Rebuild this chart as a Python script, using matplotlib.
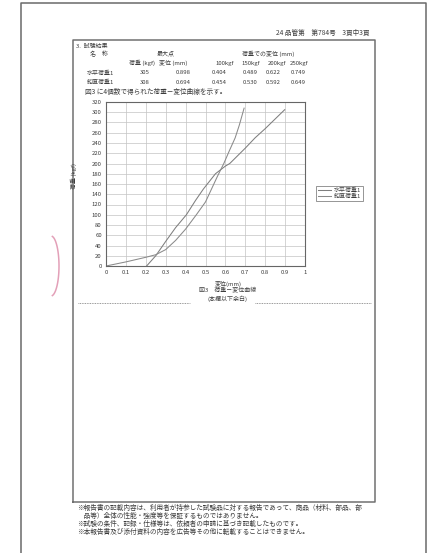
import numpy as np
import matplotlib
matplotlib.use('Agg')
import matplotlib.pyplot as plt

plt.rcParams['font.family'] = ['Noto Sans CJK JP', 'DejaVu Sans']

# Load-displacement curves
horiz_disp = [0.204, 0.25, 0.3, 0.35, 0.404, 0.45, 0.489, 0.55, 0.6, 0.622, 0.7, 0.749, 0.8, 0.898]
horiz_load = [0, 20, 48, 75, 100, 128, 150, 180, 195, 200, 230, 250, 268, 305]
vert_disp = [0, 0.1, 0.2, 0.25, 0.3, 0.35, 0.4, 0.454, 0.5, 0.53, 0.56, 0.592, 0.62, 0.649, 0.67, 0.694]
vert_load = [0, 8, 17, 22, 32, 50, 72, 100, 125, 150, 175, 200, 225, 250, 275, 308]
series_names = ['水平荷重1', '鉛直荷重1']

x_ticks = [0, 0.1, 0.2, 0.3, 0.4, 0.5, 0.6, 0.7, 0.8, 0.9, 1]
x_tick_labels = ['0', '0.1', '0.2', '0.3', '0.4', '0.5', '0.6', '0.7', '0.8', '0.9', '1']
y_ticks = list(range(0, 321, 20))

# Result table
table_head = ['荷重 (kgf)', '変位 (mm)', '100kgf', '150kgf', '200kgf', '250kgf']
table_rows = [
    ['水平荷重1', '305', '0.898', '0.404', '0.489', '0.622', '0.749'],
    ['鉛直荷重1', '308', '0.694', '0.454', '0.530', '0.592', '0.649'],
]

footer_lines = [
    '※報告書の記載内容は、利用者が持参した試験品に対する報告であって、商品（材料、部品、部',
    '　品等）全体の性能・強度等を保証するものではありません。',
    '※試験の条件、記録・仕様等は、依頼者の申請に基づき記載したものです。',
    '※本報告書及び添付資料の内容を広告等その他に転載することはできません。',
]

W, H = 445, 553
fig = plt.figure(figsize=(W / 100, H / 100), dpi=100)
fig.patch.set_facecolor('white')

# page layer in pixel coordinates
bg = fig.add_axes([0, 0, 1, 1], zorder=0)
bg.set_xlim(0, W)
bg.set_ylim(H, 0)
bg.axis('off')

txt = '#3c3c3c'
fs = 4.3      # numbers, ticks, table
fs_jp = 4.8   # running Japanese text

# outer page and inner frame
bg.plot([21, 21, 426, 426], [H, 3, 3, H], color='#6a6a6a', lw=1.1)
bg.plot([73, 73, 375, 375, 73], [502, 40, 40, 502, 502], color='#707070', lw=1.1)

# pink stamp on the left margin
t = np.linspace(-1, 1, 60)
bg.plot(51 + 8 * np.cos(t * 1.4), 266 + 30 * np.sin(t * 1.4), color='#e3a0b8', lw=1.1)

# header texts
bg.text(370, 33, '24 品管第　第784号　3頁中3頁', fontsize=fs_jp, color=txt, ha='right', va='center')
bg.text(76, 46, '3.  試験結果', fontsize=fs, color=txt, va='center')
bg.text(90, 54, '名　称', fontsize=fs, color=txt, va='center')
bg.text(166, 54, '最大点', fontsize=fs, color=txt, ha='center', va='center')
bg.text(268, 54, '荷重での変位 (mm)', fontsize=fs, color=txt, ha='center', va='center')

col_x = [142, 173, 225, 251, 277, 299]
for cx, h in zip(col_x, table_head):
    bg.text(cx, 63, h, fontsize=fs, color=txt, ha='center', va='center')
row_y = [73, 82]
val_x = [145, 183, 219, 250, 273, 298]
for ry, row in zip(row_y, table_rows):
    bg.text(87, ry, row[0], fontsize=fs, color=txt, va='center')
    for vx, v in zip(val_x, row[1:]):
        bg.text(vx, ry, v, fontsize=fs, color=txt, ha='center', va='center')
bg.text(85, 92, '図3 に4個数で得られた荷重－変位曲線を示す。', fontsize=fs_jp, color=txt, va='center')

# captions under the chart
bg.text(228, 290, '図3　荷重－変位曲線', fontsize=fs, color=txt, ha='center', va='center')
bg.text(228, 299, '(本欄以下余白)', fontsize=fs, color=txt, ha='center', va='center')
bg.plot([78, 190], [303, 303], color='#777777', lw=0.6, ls=(0, (1, 1)))
bg.plot([255, 371], [303, 303], color='#777777', lw=0.6, ls=(0, (1, 1)))

for i, line in enumerate(footer_lines):
    bg.text(77, [508, 516, 524, 532][i], line, fontsize=fs_jp, color=txt, va='center')

# chart
ax = fig.add_axes([106 / W, 1 - 266 / H, 199 / W, 164 / H], zorder=2)
ax.plot(horiz_disp, horiz_load, color='#7e7e7e', lw=0.75, label=series_names[0])
ax.plot(vert_disp, vert_load, color='#8a8a8a', lw=0.75, label=series_names[1])
ax.set_xlim(0, 1)
ax.set_ylim(0, 320)
ax.set_xticks(x_ticks)
ax.set_xticklabels(x_tick_labels)
ax.set_yticks(y_ticks)
ax.grid(True, color='#c4c4c4', lw=0.5)
ax.tick_params(labelsize=fs, colors=txt, length=0, pad=3)
for s in ax.spines.values():
    s.set_color('#666666')
    s.set_linewidth(0.8)
ax.set_xlabel('変位(mm)', fontsize=fs, color=txt, labelpad=2)
ax.xaxis.set_label_coords((228 - 106) / 199, -0.09)
ax.set_ylabel('荷重 (kgf)', fontsize=fs, color=txt, labelpad=2)
ax.yaxis.set_label_coords(-0.145, 0.55)

leg = ax.legend(loc='center left', bbox_to_anchor=(313 / W, 1 - 193.5 / H),
                bbox_transform=fig.transFigure, fontsize=fs, frameon=True,
                fancybox=False, edgecolor='#666666', handlelength=2.2,
                borderpad=0.3, labelspacing=0.2, handletextpad=0.5)
leg.get_frame().set_linewidth(0.6)
for t_ in leg.get_texts():
    t_.set_color(txt)

fig.savefig('out.png', dpi=100, facecolor='white')
